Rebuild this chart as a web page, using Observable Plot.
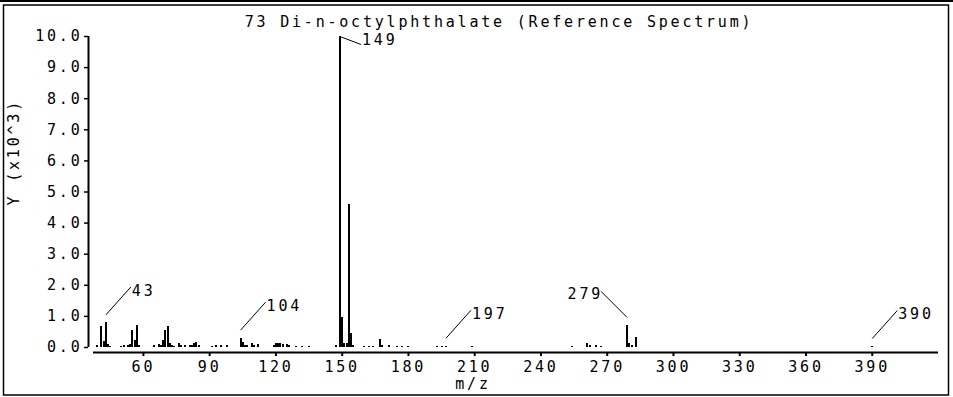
<!DOCTYPE html>
<html>
<head>
<meta charset="utf-8">
<script src="https://cdn.jsdelivr.net/npm/d3@7"></script>
<script src="https://cdn.jsdelivr.net/npm/@observablehq/plot@0.6"></script>
<style>
  html, body { margin: 0; padding: 0; background: #fff; }
</style>
</head>
<body>
<div id="chart"></div>
<script>
// ---- data (intensity in units of 10^3) ----
const titleText = "73 Di-n-octylphthalate (Reference Spectrum)";
const xLabel = "m/z";
const yLabel = "Y (x10^3)";
const mzValues = [39,41,42,43,44,45,50,51,53,54,55,56,57,58,65,67,68,69,70,71,72,73,74,76,77,79,81,82,83,84,85,91,93,95,98,104,105,106,107,109,110,112,119,120,121,122,123,125,126,129,132,135,147,149,150,151,152,153,154,155,160,162,164,167,168,171,175,177,180,193,195,197,209,254,261,262,265,267,279,280,281,283,390];
const intensities = [0.05,0.66,0.18,0.79,0.1,0.04,0.04,0.05,0.06,0.1,0.55,0.22,0.72,0.05,0.05,0.1,0.08,0.22,0.55,0.68,0.12,0.05,0.04,0.12,0.08,0.05,0.08,0.06,0.14,0.16,0.05,0.04,0.05,0.08,0.05,0.3,0.16,0.08,0.05,0.12,0.06,0.1,0.05,0.12,0.14,0.12,0.1,0.1,0.08,0.04,0.04,0.04,0.06,10.0,0.96,0.12,0.14,4.6,0.45,0.08,0.04,0.04,0.04,0.25,0.05,0.08,0.04,0.04,0.04,0.04,0.04,0.04,0.04,0.04,0.12,0.05,0.06,0.04,0.71,0.12,0.05,0.31,0.03];
const labeledPeaks = [43,104,149,197,279,390];
const xTicks = [60,90,120,150,180,210,240,270,300,330,360,390];
const yTicks = [0,1,2,3,4,5,6,7,8,9,10];

// ---- layout ----
const W = 953, H = 397;
const mL = 93, mR = 15, mT = 36, mB = 45, insB = 5;
const xDom = [37.4, 420], yDom = [0, 10];
const kx = (W - mL - mR) / (xDom[1] - xDom[0]);       // px per m/z
const ky = (H - mB - insB - mT) / (yDom[1] - yDom[0]); // px per unit

const peaks = mzValues.map((mz, i) => ({mz, v: intensities[i]}));
const basePeak = peaks.reduce((a, b) => (b.v > a.v ? b : a)).mz;

// leader geometry (pixels) converted to data units
function leader(p) {
  let sy, ex, ey, lx, ly, anchor;
  if (p.mz === basePeak) { sy = 0; ex = 21; ey = 8; lx = 1; ly = -4; anchor = "start"; }
  else if (p.mz === 279) { sy = -8; ex = -26; ey = -26; lx = -1; ly = 3; anchor = "end"; }
  else { sy = -8; ex = 25; ey = -28; lx = 1; ly = 4; anchor = "start"; }
  return {
    mz: p.mz, label: String(p.mz), anchor,
    x1: p.mz, y1: p.v - sy / ky,
    x2: p.mz + ex / kx, y2: p.v - (sy + ey) / ky,
    lxp: p.mz + (ex + lx) / kx, lyp: p.v - (sy + ey + ly) / ky
  };
}
const leaders = peaks.filter(p => labeledPeaks.includes(p.mz)).map(leader);

const chart = Plot.plot({
  width: W, height: H,
  marginLeft: mL, marginRight: mR, marginTop: mT, marginBottom: mB,
  style: {fontFamily: "'DejaVu Sans Mono', monospace", fontSize: "15px", letterSpacing: "2.8px", color: "#000", background: "#fff", overflow: "visible"},
  x: {domain: xDom, label: null},
  y: {domain: yDom, insetBottom: insB, label: null},
  marks: [
    Plot.ruleY([0], {dy: insB, stroke: "#000", strokeWidth: 2}),
    Plot.ruleX([xDom[0]], {y1: 0, y2: 10, dx: -5, stroke: "#000", strokeWidth: 2}),
    Plot.axisX({ticks: xTicks, tickFormat: d => String(d), tickSize: 4, tickPadding: 5, label: null, stroke: "#000", strokeWidth: 2}),
    Plot.axisY({ticks: yTicks, tickFormat: d3.format(".1f"), tickSize: 4, tickPadding: 2, dx: -5, label: null, stroke: "#000", strokeWidth: 1.5}),
    Plot.ruleX(peaks, {x: "mz", y1: 0, y2: "v", stroke: "#000", strokeWidth: 2, shapeRendering: "crispEdges"}),
    Plot.link(leaders, {x1: "x1", y1: "y1", x2: "x2", y2: "y2", stroke: "#000", strokeWidth: 1}),
    Plot.text(leaders.filter(d => d.anchor === "start"), {x: "lxp", y: "lyp", text: "label", textAnchor: "start", fill: "#000"}),
    Plot.text(leaders.filter(d => d.anchor === "end"), {x: "lxp", y: "lyp", text: "label", textAnchor: "end", fill: "#000", dx: 3}),
    Plot.text([titleText], {frameAnchor: "top", dy: -20, dx: -17, fill: "#000"}),
    Plot.text([xLabel], {frameAnchor: "bottom", dy: 36, dx: -43, fill: "#000"}),
    Plot.text([yLabel], {frameAnchor: "left", rotate: -90, dx: -79, dy: 11, fill: "#000"})
  ]
});

const svg = d3.select(chart);
svg.append("line").attr("x1", 0).attr("x2", W).attr("y1", 1).attr("y2", 1).attr("stroke", "#000").attr("stroke-width", 2);
svg.append("rect").attr("x", 3.5).attr("y", 5).attr("width", 945).attr("height", 390)
  .attr("fill", "none").attr("stroke", "#000").attr("stroke-width", 1.5);
document.getElementById("chart").appendChild(chart);
</script>
</body>
</html>
